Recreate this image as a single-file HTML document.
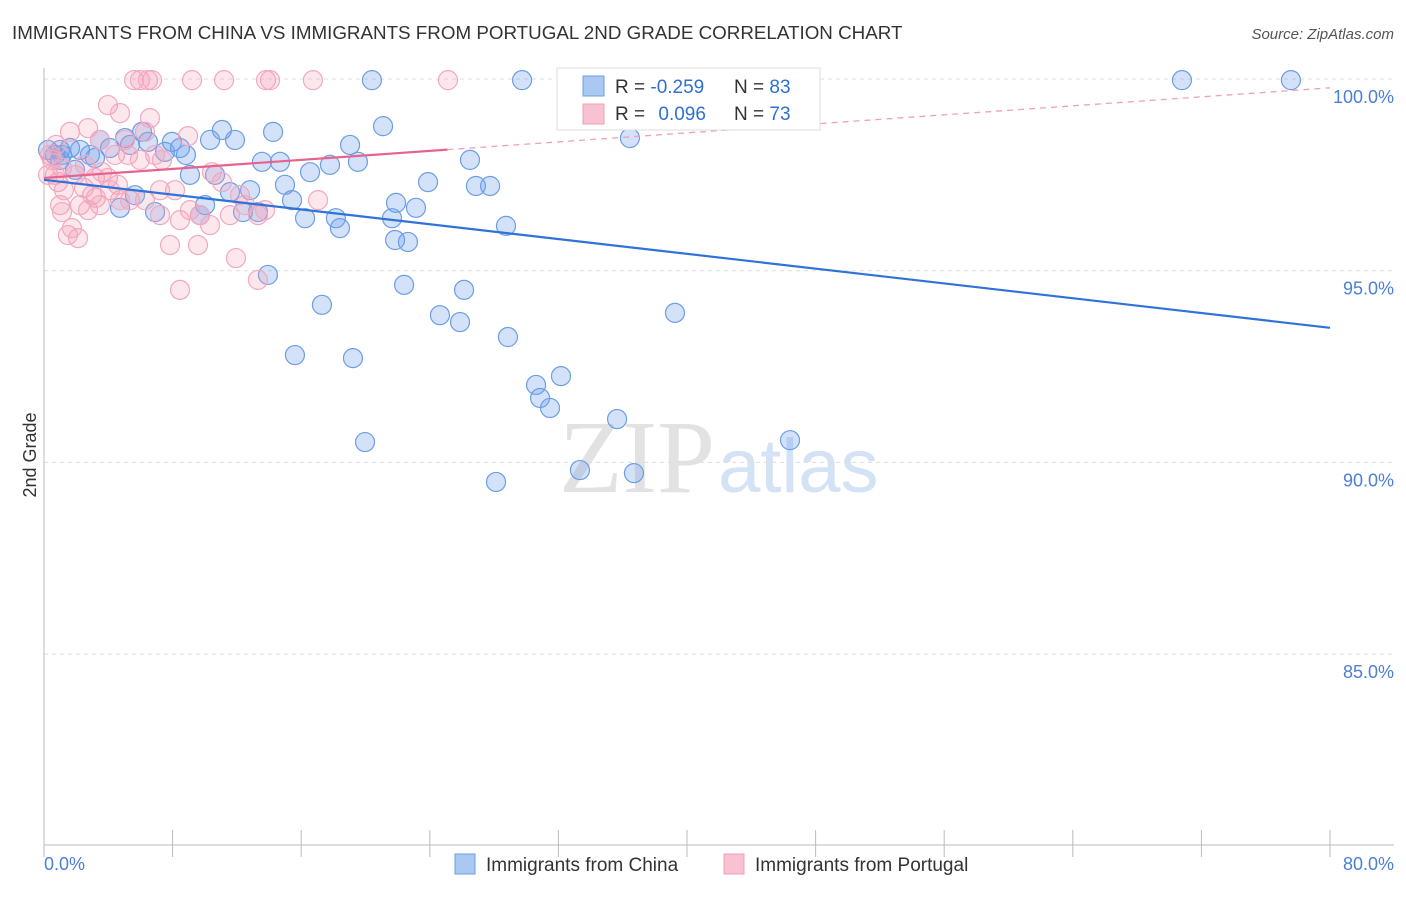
<!DOCTYPE html>
<html><head><meta charset="utf-8"><style>
body{margin:0;background:#fff;font-family:"Liberation Sans",sans-serif;}
</style></head><body>
<svg width="1406" height="892" xmlns="http://www.w3.org/2000/svg">
<text x="12" y="39" font-size="18.8" fill="#333">IMMIGRANTS FROM CHINA VS IMMIGRANTS FROM PORTUGAL 2ND GRADE CORRELATION CHART</text>
<text x="1394" y="39" font-size="15" fill="#555" text-anchor="end" font-style="italic">Source: ZipAtlas.com</text>
<text x="715" y="492" font-size="104" fill="#e2e2e2" text-anchor="end" font-family="Liberation Serif,serif">ZIP</text>
<text x="718" y="492" font-size="76" fill="#d4e2f5">atlas</text>
<g id="grid"></g><g id="axes"></g><g id="pts"></g><g id="lines"></g>
<text x="36" y="455" font-size="18" fill="#333" text-anchor="middle" transform="rotate(-90 36 455)">2nd Grade</text>
<text x="44" y="870" font-size="18" fill="#4a7fd6">0.0%</text>
<text x="1394" y="870" font-size="18" fill="#4a7fd6" text-anchor="end">80.0%</text>
<g>
<rect x="557" y="68" width="263" height="62" fill="#fff" stroke="#ddd"/>
<rect x="583" y="76" width="21" height="20" fill="#a9c8f2" stroke="#6b9ee6"/>
<rect x="583" y="104" width="21" height="20" fill="#f8c2d2" stroke="#f0a0b8"/>
<text x="615" y="93" font-size="19" fill="#333">R = <tspan fill="#2f6fd6">-0.259</tspan></text>
<text x="734" y="93" font-size="19" fill="#333">N = <tspan fill="#2f6fd6">83</tspan></text>
<text x="615" y="120" font-size="19" fill="#333">R = <tspan fill="#2f6fd6" dx="8">0.096</tspan></text>
<text x="734" y="120" font-size="19" fill="#333">N = <tspan fill="#2f6fd6">73</tspan></text>
</g>
<g>
<rect x="455" y="854" width="20" height="20" fill="#a9c8f2" stroke="#6b9ee6"/>
<text x="486" y="871" font-size="19" fill="#333">Immigrants from China</text>
<rect x="724" y="854" width="20" height="20" fill="#f8c2d2" stroke="#f0a0b8"/>
<text x="755" y="871" font-size="19" fill="#333">Immigrants from Portugal</text>
</g>
</svg>
<script>
const yTicks=[100,95,90,85];
const xTickVals=[0,8,16,24,32,40,48,56,64,72,80];
const chinaX=[0.25,0.68,1.12,1.62,2.24,3.17,3.48,4.11,4.73,5.04,5.35,6.10,6.47,6.91,7.53,7.96,8.46,8.83,9.08,9.70,10.02,10.33,11.07,11.57,11.88,12.38,12.82,13.31,13.56,13.93,14.25,14.68,14.99,15.43,15.61,16.24,16.55,17.29,18.16,18.41,19.04,19.22,19.53,19.97,20.40,21.09,21.65,21.90,22.40,22.64,23.14,23.89,24.63,25.88,26.13,26.50,26.87,27.75,28.12,28.74,28.86,29.74,30.61,30.86,31.48,32.16,33.34,34.46,35.65,36.45,36.70,39.25,46.41,70.79,77.57,1.0,1.93,5.66,2.86,10.64,17.79,21.84,1.0];
const chinaY=[98.15,98.02,98.02,98.20,98.15,97.94,98.41,98.20,96.64,98.46,98.28,98.62,98.36,96.53,98.10,98.36,98.20,98.02,97.50,96.45,96.71,98.41,98.67,97.05,98.41,96.53,97.10,96.53,97.84,94.89,98.62,97.84,97.24,96.84,92.80,96.37,97.57,94.11,96.37,96.11,98.28,92.72,97.84,90.53,99.97,98.77,96.37,96.77,94.63,95.75,96.64,97.31,93.84,93.66,94.50,97.89,97.21,97.21,89.49,96.17,93.27,99.97,92.02,91.68,91.42,92.25,89.80,99.97,91.13,98.46,89.72,93.90,90.58,99.97,99.97,97.89,97.63,96.97,98.02,97.50,97.76,95.80,98.15];
const portX=[5.6,5.97,6.47,6.72,9.21,11.2,13.81,14.06,16.73,25.13,3.98,4.73,6.59,1.62,2.74,3.48,5.04,5.23,6.28,6.91,7.34,8.96,0.5,0.68,0.87,1.12,1.93,2.55,3.17,3.61,3.98,4.42,4.60,5.35,6.28,7.22,8.15,8.46,9.08,9.70,10.33,11.07,11.57,12.50,13.31,13.75,17.05,1.0,1.12,1.49,1.74,2.12,2.24,2.74,2.99,3.23,3.48,7.84,9.58,11.94,13.31,8.46,0.25,0.37,0.75,1.24,2.49,4.11,5.97,7.22,10.45,12.19,4.73];
const portY=[99.97,99.97,99.97,99.97,99.97,99.97,99.97,99.97,99.97,99.97,99.32,99.11,98.98,98.62,98.72,98.41,98.41,98.02,98.62,98.02,97.89,98.51,97.89,97.50,97.31,97.68,97.50,97.76,97.42,97.57,97.42,98.02,97.24,96.84,96.84,96.45,97.10,96.32,96.58,96.45,96.19,97.31,96.45,96.71,96.45,96.58,96.84,96.71,96.53,95.93,96.11,95.85,96.71,96.58,96.97,96.90,96.71,95.67,95.67,95.33,94.76,94.50,97.50,98.02,98.28,97.10,97.16,97.10,97.89,97.10,97.57,96.97,96.84];
const chinaTrend=[97.37,93.51];
const portTrend=[97.42,99.77];
const portSolidEnd=25.1;

const NS="http://www.w3.org/2000/svg";
const X=v=>44+v/80*1286;
const Y=v=>79+(100-v)*38.34;
function mk(tag,attrs,parent){const e=document.createElementNS(NS,tag);for(const k in attrs)e.setAttribute(k,attrs[k]);document.getElementById(parent).appendChild(e);return e;}
yTicks.forEach(t=>{
  const l=mk('line',{x1:44,x2:1394,y1:Y(t),y2:Y(t),stroke:'#ddd','stroke-dasharray':'4 4'},'grid');
  
  
  const tx=mk('text',{x:1394,y:Y(t)+24,'font-size':18,fill:'#4a7fd6','text-anchor':'end'},'grid');
  tx.textContent=t.toFixed(1)+'%';
  
  
});
const ya=mk('line',{x1:44,x2:44,y1:68,y2:845,stroke:'#bbb'},'axes');


const xa=mk('line',{x1:44,x2:1394,y1:845,y2:845,stroke:'#bbb'},'axes');


xTickVals.forEach(t=>{
  const l=mk('line',{x1:X(t),x2:X(t),y1:830,y2:857,stroke:'#bbb'},'axes');
  
  
});
chinaX.forEach((v,i)=>{
  const c=mk('circle',{cx:X(v),cy:Y(chinaY[i]),r:9.5,fill:'rgba(110,160,235,0.3)',stroke:'#6b9ee6','stroke-width':1.2},'pts');
  
  
});
portX.forEach((v,i)=>{
  const c=mk('circle',{cx:X(v),cy:Y(portY[i]),r:9.5,fill:'rgba(245,160,185,0.25)',stroke:'#f2a8bf','stroke-width':1.2},'pts');
  
  
});
const bl=mk('line',{x1:X(0),y1:Y(chinaTrend[0]),x2:X(80),y2:Y(chinaTrend[1]),stroke:'#2f72d8','stroke-width':2.2},'lines');


const pAt=x=>portTrend[0]+(portTrend[1]-portTrend[0])*x/80;
const pd=mk('line',{x1:X(portSolidEnd),y1:Y(pAt(portSolidEnd)),x2:X(80),y2:Y(portTrend[1]),stroke:'#f0a0b8','stroke-width':1.3,'stroke-dasharray':'6 5'},'lines');


const pl=mk('line',{x1:X(0),y1:Y(portTrend[0]),x2:X(portSolidEnd),y2:Y(pAt(portSolidEnd)),stroke:'#e8628e','stroke-width':2.2},'lines');


</script>
</body></html>
